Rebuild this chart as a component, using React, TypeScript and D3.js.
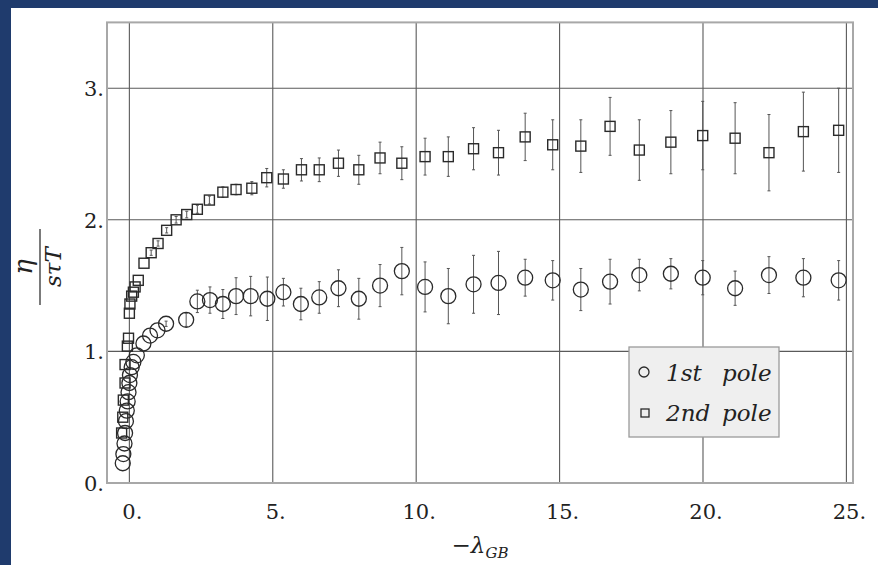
import React from "react";
import * as d3 from "d3";

// 1st pole (circles)
const pole1X = [-0.23, -0.21, -0.17, -0.15, -0.12, -0.09, -0.06, -0.03, 0.0, 0.02, 0.08, 0.14, 0.26, 0.49, 0.72, 0.98, 1.28, 1.98, 2.37, 2.81, 3.26, 3.72, 4.23, 4.81, 5.37, 5.98, 6.62, 7.29, 8.0, 8.74, 9.5, 10.31, 11.12, 12.0, 12.87, 13.8, 14.76, 15.74, 16.76, 17.78, 18.88, 19.99, 21.12, 22.3, 23.5, 24.73];
const pole1Y = [0.15, 0.22, 0.3, 0.38, 0.47, 0.55, 0.62, 0.69, 0.76, 0.82, 0.88, 0.92, 0.97, 1.06, 1.12, 1.16, 1.21, 1.24, 1.38, 1.39, 1.36, 1.42, 1.42, 1.4, 1.45, 1.36, 1.41, 1.48, 1.4, 1.5, 1.61, 1.49, 1.42, 1.51, 1.52, 1.56, 1.54, 1.47, 1.53, 1.58, 1.59, 1.56, 1.48, 1.58, 1.56, 1.54];
const pole1Err = [0.01, 0.01, 0.01, 0.01, 0.01, 0.01, 0.01, 0.01, 0.01, 0.01, 0.01, 0.01, 0.01, 0.01, 0.01, 0.01, 0.02, 0.05, 0.085, 0.1, 0.11, 0.14, 0.15, 0.165, 0.105, 0.12, 0.12, 0.14, 0.155, 0.16, 0.18, 0.19, 0.21, 0.22, 0.24, 0.14, 0.15, 0.16, 0.17, 0.12, 0.115, 0.13, 0.13, 0.14, 0.145, 0.15];

// 2nd pole (squares)
const pole2X = [-0.27, -0.23, -0.21, -0.15, -0.15, -0.07, -0.03, 0.0, 0.02, 0.08, 0.14, 0.2, 0.31, 0.51, 0.76, 1.0, 1.3, 1.63, 2.0, 2.37, 2.79, 3.26, 3.72, 4.27, 4.79, 5.37, 6.0, 6.62, 7.29, 8.0, 8.74, 9.5, 10.31, 11.12, 12.0, 12.87, 13.8, 14.76, 15.74, 16.76, 17.78, 18.88, 19.99, 21.12, 22.3, 23.5, 24.73];
const pole2Y = [0.38, 0.5, 0.63, 0.76, 0.9, 1.04, 1.1, 1.29, 1.36, 1.42, 1.45, 1.49, 1.54, 1.67, 1.75, 1.82, 1.92, 2.0, 2.04, 2.08, 2.15, 2.21, 2.23, 2.24, 2.32, 2.31, 2.38, 2.38, 2.43, 2.38, 2.47, 2.43, 2.48, 2.48, 2.54, 2.51, 2.63, 2.57, 2.56, 2.71, 2.53, 2.59, 2.64, 2.62, 2.51, 2.67, 2.68];
const pole2Err = [0.01, 0.01, 0.01, 0.01, 0.01, 0.01, 0.01, 0.01, 0.01, 0.01, 0.01, 0.01, 0.01, 0.015, 0.02, 0.02, 0.02, 0.025, 0.025, 0.03, 0.03, 0.04, 0.04, 0.05, 0.07, 0.07, 0.085, 0.09, 0.1, 0.11, 0.12, 0.125, 0.14, 0.15, 0.16, 0.17, 0.18, 0.19, 0.2, 0.22, 0.23, 0.24, 0.26, 0.27, 0.29, 0.3, 0.32];

const xTicks = [0, 5, 10, 15, 20, 25];
const yTicks = [0, 1, 2, 3];
const legendLabels = ["1st", "2nd"];

const W = 878,
  H = 565;
const serif = "'DejaVu Serif'";

export default function App() {
  const x = d3.scaleLinear().domain([-0.78, 25.23]).range([107, 853]);
  const y = d3.scaleLinear().domain([0, 3.5]).range([483, 22.4]);

  const gridColor = "#5a5a5a";
  const ink = "#2a2a2a";

  const errBar = (xv: number, yv: number, e: number, key: string) => {
    if (e < 0.02) return null;
    const cx = x(xv);
    return (
      <g key={key} stroke="#555" strokeWidth={1}>
        <line x1={cx} x2={cx} y1={y(yv - e)} y2={y(yv + e)} />
        <line x1={cx - 1.5} x2={cx + 1.5} y1={y(yv - e)} y2={y(yv - e)} />
        <line x1={cx - 1.5} x2={cx + 1.5} y1={y(yv + e)} y2={y(yv + e)} />
      </g>
    );
  };

  return (
    <svg
      width={W}
      height={H}
      style={{ position: "absolute", left: 0, top: 0, fontFamily: serif }}
    >
      <rect x={0} y={0} width={W} height={H} fill="#ffffff" />
      {/* dark blue page frame */}
      <rect x={0} y={0} width={W} height={8} fill="#1f3b6d" />
      <rect x={0} y={0} width={11} height={H} fill="#1f3b6d" />

      {/* grid */}
      <g stroke={gridColor} strokeWidth={1.1}>
        {xTicks.map((t) => (
          <line key={"gx" + t} x1={x(t)} x2={x(t)} y1={y.range()[1]} y2={y(0)} />
        ))}
        {yTicks
          .filter((t) => t > 0)
          .map((t) => (
            <line key={"gy" + t} x1={x.range()[0]} x2={x.range()[1]} y1={y(t)} y2={y(t)} />
          ))}
      </g>

      {/* frame */}
      <rect
        x={x.range()[0]}
        y={y.range()[1]}
        width={x.range()[1] - x.range()[0]}
        height={y(0) - y.range()[1]}
        fill="none"
        stroke="#a8a8a8"
        strokeWidth={2}
      />

      {/* error bars */}
      {pole2X.map((xv, i) => errBar(xv, pole2Y[i], pole2Err[i], "e2" + i))}
      {pole1X.map((xv, i) => errBar(xv, pole1Y[i], pole1Err[i], "e1" + i))}

      {/* 2nd pole squares */}
      <g fill="none" stroke={ink} strokeWidth={1.4}>
        {pole2X.map((xv, i) => (
          <rect key={"s" + i} x={x(xv) - 5} y={y(pole2Y[i]) - 5} width={10} height={10} />
        ))}
      </g>

      {/* 1st pole circles */}
      <g fill="none" stroke={ink} strokeWidth={1.3}>
        {pole1X.map((xv, i) => (
          <circle key={"c" + i} cx={x(xv)} cy={y(pole1Y[i])} r={7.5} />
        ))}
      </g>

      {/* tick labels */}
      <g fontSize={21} fill="#222">
        {yTicks.map((t) => (
          <text key={"ly" + t} x={x.range()[0] - 3} y={y(t) + 8} textAnchor="end">
            {t}.
          </text>
        ))}
        {xTicks.map((t) => (
          <text key={"lx" + t} x={x(t) + 3} y={519} textAnchor="middle">
            {t}.
          </text>
        ))}
      </g>

      {/* x axis title */}
      <text x={480} y={553} textAnchor="middle" fontSize={23} fill="#222">
        −<tspan fontStyle="italic">λ</tspan>
        <tspan fontSize={15} fontStyle="italic" dy={5}>
          GB
        </tspan>
      </text>

      {/* y axis title: eta / (s tau T) */}
      <g transform="translate(40,267) rotate(-90)" fill="#222">
        <text x={0} y={-8} textAnchor="middle" fontSize={26} fontStyle="italic">
          η
        </text>
        <line x1={-38} x2={38} y1={0} y2={0} stroke="#222" strokeWidth={1.2} />
        <text x={0} y={21} textAnchor="middle" fontSize={23} fontStyle="italic">
          sτT
        </text>
      </g>

      {/* legend */}
      <g>
        <rect x={629} y={347} width={150} height={90} fill="#efefef" stroke="#9a9a9a" strokeWidth={1.3} />
        <circle cx={644} cy={372} r={5} fill="none" stroke={ink} strokeWidth={1.3} />
        <rect x={641} y={409} width={8} height={8} fill="none" stroke={ink} strokeWidth={1.3} />
        {legendLabels.map((l, i) => (
          <text key={l} x={666} y={381 + i * 40} fontSize={23} fontStyle="italic" fill="#222">
            {l}
            <tspan x={722}>pole</tspan>
          </text>
        ))}
      </g>
    </svg>
  );
}
